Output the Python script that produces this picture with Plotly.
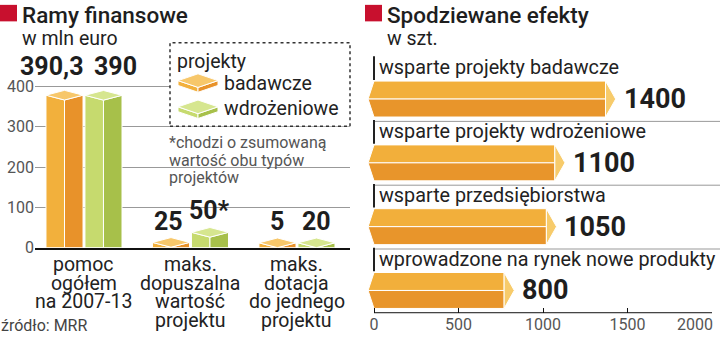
import plotly.graph_objects as go

W, H = 720, 347

# ---------------- data ----------------
# left chart: "Ramy finansowe" (w mln euro)
cat_lines = [
    ["pomoc", "ogółem", "na 2007-13"],
    ["maks.", "dopuszalna", "wartość", "projektu"],
    ["maks.", "dotacja", "do jednego", "projektu"],
]
badawcze = [390.3, 25, 5]
wdrozeniowe = [390, 50, 20]
badawcze_labels = ["390,3", "25", "5"]
wdrozeniowe_labels = ["390", "50*", "20"]
left_ticks = [0, 100, 200, 300, 400]

# right chart: "Spodziewane efekty" (w szt.)
effects = [
    "wsparte projekty badawcze",
    "wsparte projekty wdrożeniowe",
    "wsparte przedsiębiorstwa",
    "wprowadzone na rynek nowe produkty",
]
effect_values = [1400, 1100, 1050, 800]
effect_labels = ["1400", "1100", "1050", "800"]
right_ticks = [0, 500, 1000, 1500, 2000]
right_tick_text = ["0", "500", "1000", "1500", "2000"]

# ---------------- styles ----------------
FONT = "Roboto"
ORANGE = dict(left="#F2B03C", right="#E8922A", top="#F7C76A")
GREEN = dict(left="#C6DA6E", right="#A7C04A", top="#D6E68F")
BAR_UP, BAR_LO, BAR_TIP = "#F2AF3B", "#E8952B", "#F7CB6B"
RED = "#C8102E"
DARK = "#1e1e1e"
TICKFONT = dict(family=FONT, size=16, color="#555")


def px(x):
    return x / W


def py(y):
    return 1 - y / H


fig = go.Figure()


def poly(xs, ys, color, xa, ya):
    fig.add_trace(go.Scatter(
        x=xs, y=ys, fill="toself", fillcolor=color, mode="lines",
        line=dict(color="white", width=1), hoverinfo="skip",
        showlegend=False, xaxis=xa, yaxis=ya))


# ---- left chart: isometric boxes ----
OFF, HW, HD = 0.183, 0.174, 12.0   # group offset, half width (x units), rhombus half depth (y units)
label_shift = [[-13, 12], [-2, 0], [0, 0]]
label_yshift = [7, 0, 0]


def box(xc, v, col):
    base = max(v - 2 * HD, 0)
    top = base + 2 * HD
    xl, xr = xc - HW, xc + HW
    poly([xl, xl, xc, xc, xl], [0, base + HD, base, 0, 0], col["left"], "x", "y")
    poly([xc, xc, xr, xr, xc], [0, base, base + HD, 0, 0], col["right"], "x", "y")
    poly([xl, xc, xr, xc, xl], [base + HD, top, base + HD, base, base + HD], col["top"], "x", "y")
    return top


annotations = []
for i in range(len(cat_lines)):
    for j, (vals, labs, col) in enumerate([(badawcze, badawcze_labels, ORANGE),
                                            (wdrozeniowe, wdrozeniowe_labels, GREEN)]):
        xc = i + (-OFF if j == 0 else OFF)
        top = box(xc, vals[i], col)
        annotations.append(dict(
            x=xc, y=top, xref="x", yref="y", text=labs[i], showarrow=False,
            xanchor="center", yanchor="bottom", xshift=label_shift[i][j],
            yshift=label_yshift[i],
            font=dict(family=FONT, size=25, color=DARK, weight="bold")))
    for k, line in enumerate(cat_lines[i]):
        annotations.append(dict(
            x=i, y=py(272 + 19.4 * k), xref="x", yref="paper", text=line,
            showarrow=False, xanchor="center", yanchor="middle", borderpad=0,
            font=dict(family=FONT, size=19.5, color="#222")))

# ---- right chart: horizontal prism bars ----
HH, LT, TE = 0.2816, 35, 30
for i, v in enumerate(effect_values):
    c = i
    poly([-LT, 0, v - TE, v - TE, -LT], [c, c - HH, c - HH, c, c], BAR_UP, "x2", "y2")
    poly([-LT, v - TE, v - TE, 0, -LT], [c, c, c + HH, c + HH, c], BAR_LO, "x2", "y2")
    poly([v - TE, v + TE, v - TE, v - TE], [c - HH, c, c + HH, c - HH], BAR_TIP, "x2", "y2")
    annotations.append(dict(
        x=v, y=c, xref="x2", yref="y2", text=effect_labels[i], showarrow=False,
        xanchor="left", yanchor="middle", xshift=11,
        font=dict(family=FONT, size=27, color=DARK, weight="bold")))
    annotations.append(dict(
        x=0, y=c - 0.49, xref="x2", yref="y2", text=effects[i], showarrow=False,
        xanchor="left", yanchor="middle", xshift=4, borderpad=0,
        font=dict(family=FONT, size=19.8, color="#222")))

# last tick label of the right axis, pulled inside the page like in the original
annotations.append(dict(
    x=right_ticks[-1], y=py(334), xref="x2", yref="paper", text=right_tick_text[-1],
    showarrow=False, xanchor="right", yanchor="middle", xshift=2, borderpad=0,
    font=TICKFONT))


# ---- titles & notes ----
def txt(x, y, text, size, color=DARK, weight="normal", yanchor="middle"):
    annotations.append(dict(
        x=px(x), y=py(y), xref="paper", yref="paper", text=text, showarrow=False,
        xanchor="left", yanchor=yanchor, borderpad=0,
        font=dict(family=FONT, size=size, color=color, weight=weight)))


txt(21, 15, "Ramy finansowe", 22.5, weight=500)
txt(21, 40, "w mln euro", 19.5)
txt(386, 15, "Spodziewane efekty", 22.5, weight=500)
txt(386, 40, "w szt.", 19.5)
txt(176, 63, "projekty", 19.5, color="#222")
txt(223, 86, "badawcze", 19.5, color="#222")
txt(223, 112, "wdrożeniowe", 19.5, color="#222")
for k, line in enumerate(["*chodzi o zsumowaną", "wartość obu typów", "projektów"]):
    txt(168, 147 + 18 * k, line, 16, color="#555")
txt(0, 346, "źródło: MRR", 16, color="#444", yanchor="bottom")

# ---- decorative shapes ----
shapes = []
shapes.append(dict(type="rect", xref="paper", yref="paper", x0=px(0), x1=px(17),
                   y0=py(22), y1=py(5), fillcolor=RED, line=dict(width=0)))
shapes.append(dict(type="rect", xref="paper", yref="paper", x0=px(365), x1=px(382),
                   y0=py(22), y1=py(5), fillcolor=RED, line=dict(width=0)))
# legend box
shapes.append(dict(type="rect", xref="paper", yref="paper", x0=px(170), x1=px(350),
                   y0=py(130), y1=py(44), fillcolor="white",
                   line=dict(color="#333", width=1.5, dash="dot")))


def path(pts):
    return "M " + " L ".join(f"{px(a):.5f},{py(b):.5f}" for a, b in pts) + " Z"


for dy, col in [(0, ORANGE), (27, GREEN)]:
    cx, t = 198, 76 + dy
    shapes.append(dict(type="path", xref="paper", yref="paper",
                       path=path([(178, t + 7), (cx, t + 14), (cx, t + 19), (178, t + 12)]),
                       fillcolor=col["left"], line=dict(color="white", width=1)))
    shapes.append(dict(type="path", xref="paper", yref="paper",
                       path=path([(cx, t + 14), (218, t + 7), (218, t + 12), (cx, t + 19)]),
                       fillcolor=col["right"], line=dict(color="white", width=1)))
    shapes.append(dict(type="path", xref="paper", yref="paper",
                       path=path([(178, t + 7), (cx, t), (218, t + 7), (cx, t + 14)]),
                       fillcolor=col["top"], line=dict(color="white", width=1)))

# right chart separators, label marks and axis line
for i in range(len(effects) - 1):
    shapes.append(dict(type="line", xref="paper", yref="y2", x0=px(374), x1=1,
                       y0=i + 0.35, y1=i + 0.35, line=dict(color="#999", width=1)))
for i in range(len(effects)):
    shapes.append(dict(type="line", xref="x2", yref="y2", x0=0, x1=0,
                       y0=i - 0.67, y1=i - 0.30, line=dict(color="#222", width=2)))
shapes.append(dict(type="line", xref="x2", yref="paper", x0=0, x1=2000,
                   y0=py(322), y1=py(322), line=dict(color="#111", width=1)))

tick_text = right_tick_text[:-1] + [""]

fig.update_layout(
    width=W, height=H, margin=dict(l=0, r=0, t=0, b=0),
    paper_bgcolor="white", plot_bgcolor="white", dragmode=False,
    showlegend=False, annotations=annotations, shapes=shapes,
    xaxis=dict(domain=[px(35), px(350)], range=[-0.460, 2.498], anchor="y",
               showticklabels=False, showgrid=False, zeroline=False,
               showline=True, linecolor="#111", linewidth=2.5, layer="below traces",
               fixedrange=True),
    yaxis=dict(domain=[py(255), py(40)], range=[0, 518.07], anchor="x",
               tickvals=left_ticks, showgrid=True, gridcolor="#999", gridwidth=1,
               zeroline=False, showline=False, ticks="",
               tickfont=TICKFONT, fixedrange=True),
    xaxis2=dict(domain=[0.51006, 0.98889], range=[-40, 2000], anchor="y2",
                tickvals=right_ticks, ticktext=tick_text,
                ticks="inside", ticklen=5, tickcolor="#111",
                showgrid=False, zeroline=False, showline=False,
                tickfont=TICKFONT, fixedrange=True),
    yaxis2=dict(domain=[25 / 347, 1], range=[3.3486, -1.5525], anchor="x2",
                showticklabels=False, showgrid=False, zeroline=False, showline=False,
                fixedrange=True),
)

fig.write_html("out.html", config={"staticPlot": True, "displayModeBar": False})
